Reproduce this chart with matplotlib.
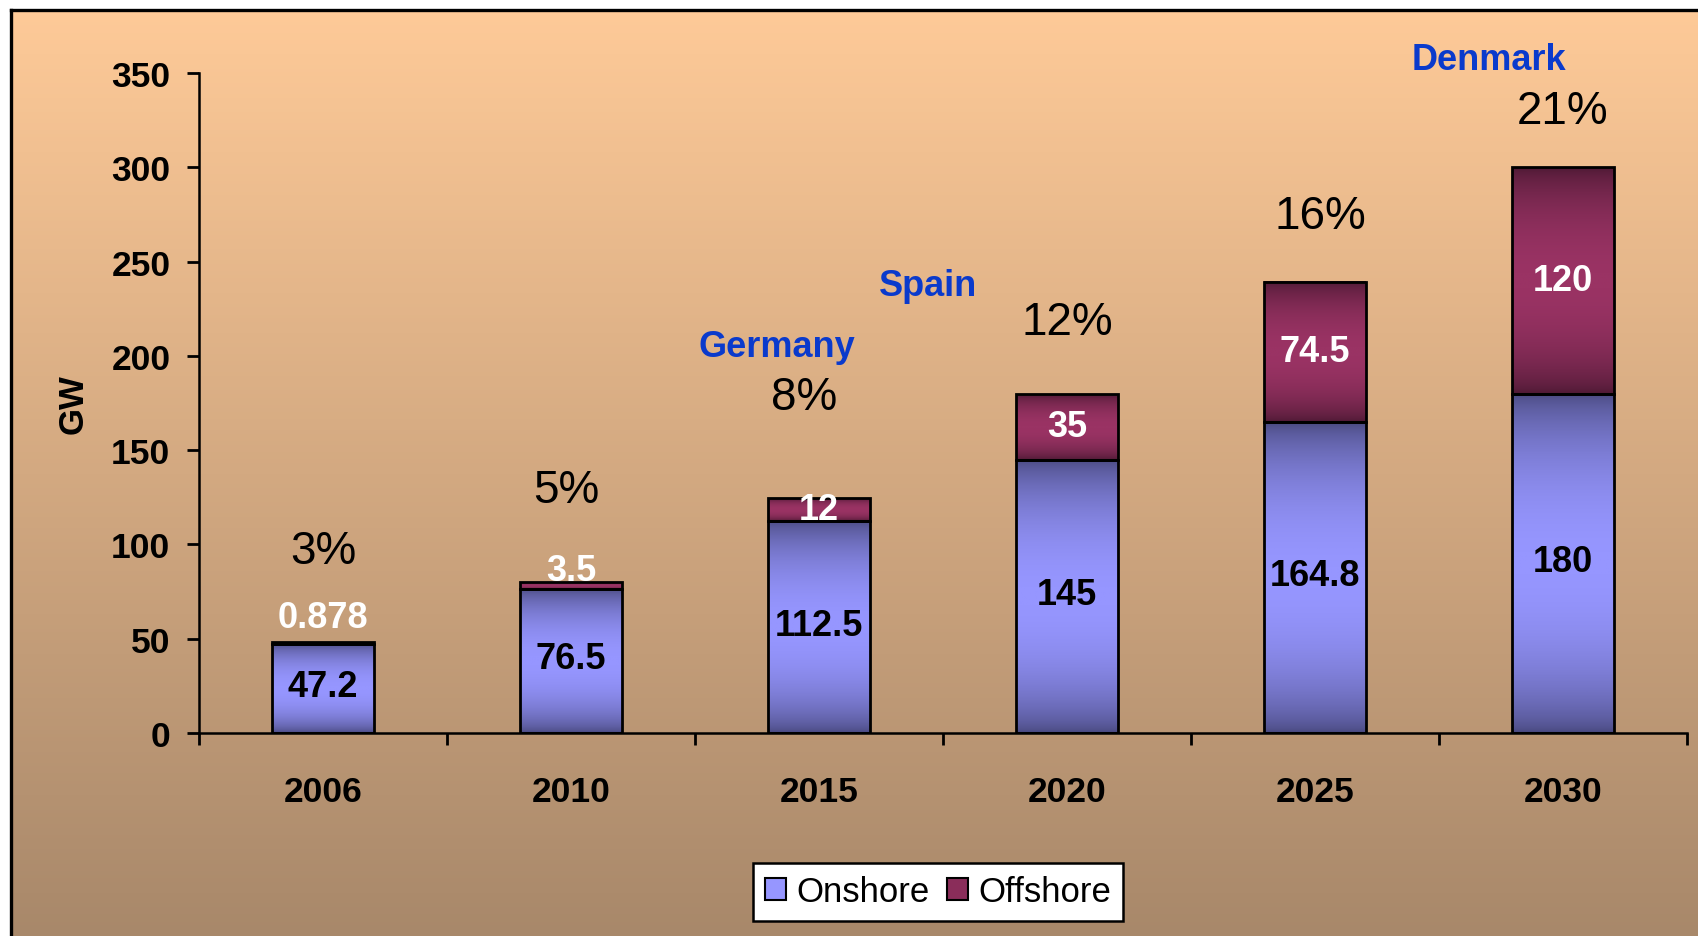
import numpy as np
import matplotlib.pyplot as plt
from matplotlib.colors import LinearSegmentedColormap
from matplotlib.patches import Patch
from matplotlib.lines import Line2D

plt.rcParams['font.family'] = ['Liberation Sans', 'DejaVu Sans']

years = ['2006', '2010', '2015', '2020', '2025', '2030']
onshore = [47.2, 76.5, 112.5, 145, 164.8, 180]
offshore = [0.878, 3.5, 12, 35, 74.5, 120]
onshore_labels = ['47.2', '76.5', '112.5', '145', '164.8', '180']
offshore_labels = ['0.878', '3.5', '12', '35', '74.5', '120']
shares = ['3%', '5%', '8%', '12%', '16%', '21%']
countries = ['Germany', 'Spain', 'Denmark']

# where the annotations sit (data coords)
share_pos = [(0.0, 96.5), (0.98, 129), (1.94, 178), (3.0, 218), (4.02, 274), (5.0, 330)]
country_pos = [(1.83, 205), (2.44, 237.5), (4.70, 357)]

W, H = 1698, 937
fig = plt.figure(figsize=(W / 100, H / 100), dpi=100)
fig.patch.set_facecolor('white')

# background gradient with thin white margin and black border (top / left)
bg_cmap = LinearSegmentedColormap.from_list('bg', ['#a8886a', '#feca98'])
bg = fig.add_axes([12 / W, 0, 1 - 12 / W, 1 - 12 / H])
bg.imshow(np.linspace(0, 1, 256)[:, None], cmap=bg_cmap, aspect='auto',
          origin='lower', extent=(0, 1, 0, 1))
bg.axis('off')
bg.set_zorder(0)
fig.add_artist(Line2D([10.5 / W, 1], [1 - 10.5 / H] * 2, color='black', lw=2.4))
fig.add_artist(Line2D([10.5 / W] * 2, [0, 1 - 10.5 / H], color='black', lw=2.4))

ax = fig.add_axes([199 / W, 1 - 734 / H, (1687 - 199) / W, (734 - 74) / H])
ax.set_zorder(1)
ax.patch.set_alpha(0)

on_cmap = LinearSegmentedColormap.from_list('on', ['#46467a', '#9696ff'])
off_cmap = LinearSegmentedColormap.from_list('off', ['#4a1832', '#9a3364'])

x = np.arange(len(years))
bw = 0.41
t = np.linspace(0, 1, 256)
prof = np.sin(np.pi * t) ** 0.6


def grad_bar(xc, bottom, height, cmap):
    ax.imshow(prof[:, None], cmap=cmap, vmin=0, vmax=1, aspect='auto',
              origin='lower', interpolation='bilinear', zorder=2,
              extent=(xc - bw / 2, xc + bw / 2, bottom, bottom + height))


for i in range(len(years)):
    grad_bar(x[i], 0, onshore[i], on_cmap)
    grad_bar(x[i], onshore[i], offshore[i], off_cmap)

ax.bar(x, onshore, bw, facecolor='none', edgecolor='black', lw=2.0, zorder=3)
ax.bar(x, offshore, bw, bottom=onshore, facecolor='none', edgecolor='black',
       lw=2.0, zorder=3)

for i in range(len(years)):
    ax.text(x[i], onshore[i] / 2 + 1, onshore_labels[i], ha='center', va='center',
            fontsize=26, fontweight='bold', color='black', zorder=4)
    top = onshore[i] + offshore[i]
    if offshore[i] < 5:
        ly = top + (13 if offshore[i] < 1 else 6)
    else:
        ly = onshore[i] + offshore[i] / 2
    ax.text(x[i], ly, offshore_labels[i], ha='center', va='center',
            fontsize=26, fontweight='bold', color='white', zorder=4)

for s, (sx, sy) in zip(shares, share_pos):
    ax.text(sx, sy, s, ha='center', va='center', fontsize=33, color='black',
            clip_on=False)
for c, (cx, cy) in zip(countries, country_pos):
    ax.text(cx, cy, c, ha='center', va='center', fontsize=26, fontweight='bold',
            color='#0a3acc', clip_on=False)

ax.set_xlim(-0.5, 5.5)
ax.set_ylim(0, 350)
ax.set_yticks(np.arange(0, 351, 50))
ax.set_xticks(x)
ax.set_xticklabels(years)
ax.set_xticks(np.arange(-0.5, 5.6, 1), minor=True)
for lab in ax.get_xticklabels() + ax.get_yticklabels():
    lab.set_fontweight('bold')
    lab.set_fontsize(25.5)
ax.tick_params(axis='x', which='major', length=0, pad=30)
ax.tick_params(axis='x', which='minor', length=8.6, width=2, direction='out')
ax.tick_params(axis='y', length=8.6, width=2, direction='out', pad=12)
for sp in ['top', 'right']:
    ax.spines[sp].set_visible(False)
for sp in ['left', 'bottom']:
    ax.spines[sp].set_linewidth(1.8)

fig.text(73 / W, 1 - 404 / H, 'GW', rotation=90, ha='center', va='center',
         fontsize=25, fontweight='bold')

handles = [Patch(facecolor='#9696ff', edgecolor='black', lw=1.5),
           Patch(facecolor='#8a2d5a', edgecolor='black', lw=1.5)]
leg = fig.legend(handles, ['Onshore', 'Offshore'], loc='center',
                 bbox_to_anchor=(938 / W, 1 - 893 / H), ncol=2, fontsize=25,
                 fancybox=False, framealpha=1, edgecolor='black',
                 handlelength=0.6, handleheight=0.6, handletextpad=0.3,
                 columnspacing=0.5, borderpad=0.35)
leg.get_frame().set_linewidth(1.8)
leg.set_zorder(5)

fig.savefig('out.png', dpi=100)
